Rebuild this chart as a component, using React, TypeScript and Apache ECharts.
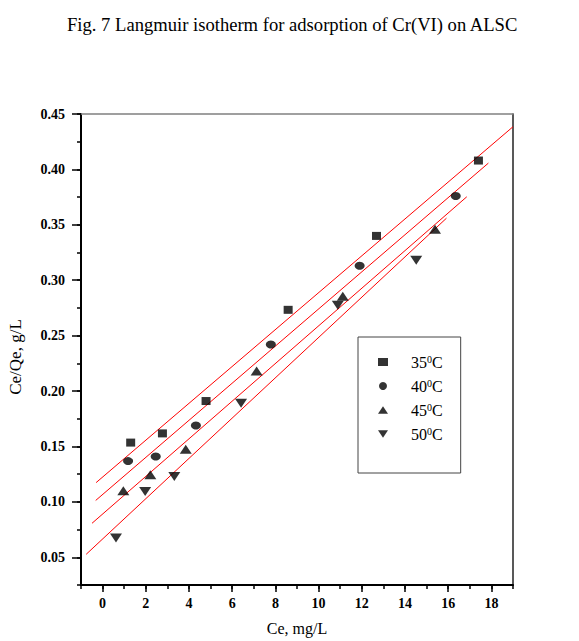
import React, { useEffect, useRef } from "react";
import * as echarts from "echarts";

const titleText = "Fig. 7 Langmuir isotherm for adsorption of Cr(VI) on ALSC";
const xAxisTitle = "Ce, mg/L";
const yAxisTitle = "Ce/Qe, g/L";

const seriesNames = ["35", "40", "45", "50"];

const ce35 = [1.3, 2.77, 4.79, 8.59, 12.68, 17.4];
const q35 = [0.1535, 0.1618, 0.191, 0.2733, 0.34, 0.408];
const ce40 = [1.18, 2.46, 4.32, 7.79, 11.9, 16.35];
const q40 = [0.1368, 0.141, 0.169, 0.242, 0.313, 0.376];
const ce45 = [0.96, 2.21, 3.85, 7.13, 11.12, 15.39];
const q45 = [0.11, 0.1245, 0.1475, 0.218, 0.2855, 0.346];
const ce50 = [0.62, 1.97, 3.32, 6.41, 10.89, 14.52];
const q50 = [0.0673, 0.1093, 0.123, 0.189, 0.2775, 0.318];

// fitted lines: endpoints
const fitX35 = [-0.3, 19];
const fitY35 = [0.1174, 0.4385];
const fitX40 = [-0.32, 17.86];
const fitY40 = [0.1013, 0.4057];
const fitX45 = [-0.49, 16.86];
const fitY45 = [0.0807, 0.3753];
const fitX50 = [-0.76, 15.92];
const fitY50 = [0.0527, 0.356];

const xMajorTicks = [0, 2, 4, 6, 8, 10, 12, 14, 16, 18];
const yMajorTicks = [0.05, 0.1, 0.15, 0.2, 0.25, 0.3, 0.35, 0.4, 0.45];

const SERIF = "'Liberation Serif', 'Times New Roman', serif";

const zip = (xs: number[], ys: number[]) => xs.map((x, i) => [x, ys[i]]);

export default function App() {
  const ref = useRef<HTMLDivElement>(null);
  useEffect(() => {
    if (!ref.current) return;
    const chart = echarts.init(ref.current, undefined, { renderer: "svg" });
    const markers: any[] = [
      { symbol: "rect", size: [9, 8], rotate: 0, icon: "rect" },
      { symbol: "circle", size: [10, 8], rotate: 0, icon: "circle" },
      { symbol: "triangle", size: [12, 9], rotate: 0, icon: "path://M6,0L12,9L0,9Z" },
      { symbol: "triangle", size: [12, 9], rotate: 180, icon: "path://M0,0L12,0L6,9Z" },
    ];
    const scatterData = [zip(ce35, q35), zip(ce40, q40), zip(ce45, q45), zip(ce50, q50)];
    const fitData = [zip(fitX35, fitY35), zip(fitX40, fitY40), zip(fitX45, fitY45), zip(fitX50, fitY50)];
    const labelStyle = { fontFamily: SERIF, fontWeight: "bold" as const, fontSize: 14, color: "#000" };
    const option: any = {
      animation: false,
      backgroundColor: "#fff",
      title: {
        text: titleText,
        left: 67,
        top: 15,
        padding: 0,
        textStyle: { fontFamily: SERIF, fontSize: 18.6, fontWeight: "normal", color: "#000" },
      },
      grid: { left: 81, right: 66, top: 114, bottom: 52, containLabel: false },
      legend: {
        data: seriesNames.map((n, i) => ({ name: n, icon: markers[i].icon })),
        orient: "vertical",
        left: 358,
        top: 337,
        itemWidth: 10,
        itemHeight: 8,
        itemGap: 8,
        padding: [17, 18, 31, 20],
        borderColor: "#444",
        borderWidth: 1,
        formatter: (name: string) => `{sp|}${name}{sup|0}C`,
        textStyle: {
          fontFamily: SERIF,
          fontSize: 16,
          lineHeight: 16,
          color: "#000",
          rich: {
            sp: { width: 18, lineHeight: 16 },
            sup: { fontFamily: SERIF, fontSize: 10, lineHeight: 16, verticalAlign: "top", color: "#000" },
          },
        },
      },
      xAxis: [
        {
          type: "value",
          min: -1,
          max: 19,
          interval: 1,
          position: "bottom",
          axisLine: { show: true, onZero: false, lineStyle: { color: "#000", width: 2 } },
          axisTick: { show: true, length: 4, lineStyle: { color: "#000", width: 1.5 } },
          axisLabel: {
            ...labelStyle,
            margin: 11,
            formatter: (v: number) => (v >= 0 && Math.round(v) % 2 === 0 ? String(Math.round(v)) : ""),
          },
          splitLine: { show: false },
          name: xAxisTitle,
          nameLocation: "middle",
          nameGap: 35,
          nameTextStyle: { fontFamily: SERIF, fontSize: 16, color: "#000" },
        },
        {
          type: "value",
          min: -1,
          max: 19,
          position: "bottom",
          axisLine: { show: false, onZero: false },
          axisTick: { show: true, length: 7, customValues: xMajorTicks, lineStyle: { color: "#000", width: 1.5 } },
          axisLabel: { show: false },
          splitLine: { show: false },
        },
        {
          type: "value",
          min: -1,
          max: 19,
          position: "top",
          axisLine: { show: true, onZero: false, lineStyle: { color: "#808080", width: 1.5 } },
          axisTick: { show: false },
          axisLabel: { show: false },
          splitLine: { show: false },
        },
      ],
      yAxis: [
        {
          type: "value",
          min: 0.025,
          max: 0.45,
          interval: 0.025,
          position: "left",
          axisLine: { show: true, onZero: false, lineStyle: { color: "#000", width: 2 } },
          axisTick: { show: true, length: 4, lineStyle: { color: "#000", width: 1.5 } },
          axisLabel: {
            ...labelStyle,
            margin: 16,
            formatter: (v: number) => {
              const k = v / 0.05;
              return Math.abs(k - Math.round(k)) < 1e-6 ? v.toFixed(2) : "";
            },
          },
          splitLine: { show: false },
        },
        {
          type: "value",
          min: 0.025,
          max: 0.45,
          position: "left",
          axisLine: { show: false, onZero: false },
          axisTick: { show: true, length: 9, customValues: yMajorTicks, lineStyle: { color: "#000", width: 1.5 } },
          axisLabel: { show: false },
          splitLine: { show: false },
        },
        {
          type: "value",
          min: 0.025,
          max: 0.45,
          position: "right",
          axisLine: { show: true, onZero: false, lineStyle: { color: "#222", width: 1.5 } },
          axisTick: { show: false },
          axisLabel: { show: false },
          splitLine: { show: false },
        },
      ],
      graphic: [
        {
          type: "text",
          x: 15,
          y: 357,
          rotation: Math.PI / 2,
          style: {
            text: yAxisTitle,
            fontFamily: SERIF,
            fontSize: 17,
            fill: "#000",
            align: "center",
            verticalAlign: "middle",
          },
        },
      ],
      series: [
        ...fitData.map((d, i) => ({
          name: "fit" + seriesNames[i],
          type: "line",
          xAxisIndex: 0,
          yAxisIndex: 0,
          data: d,
          symbol: "none",
          lineStyle: { color: "#ff0000", width: 1 },
          silent: true,
          z: 1,
        })),
        ...scatterData.map((d, i) => ({
          name: seriesNames[i],
          type: "scatter",
          xAxisIndex: 0,
          yAxisIndex: 0,
          data: d,
          symbol: markers[i].symbol,
          symbolSize: markers[i].size,
          symbolRotate: markers[i].rotate,
          itemStyle: { color: "#000" },
          z: 3,
        })),
      ],
    };
    chart.setOption(option);
    return () => chart.dispose();
  }, []);
  return (
    <div
      ref={ref}
      style={{ position: "absolute", left: 0, top: 0, width: 579, height: 641, background: "#fff" }}
    />
  );
}
